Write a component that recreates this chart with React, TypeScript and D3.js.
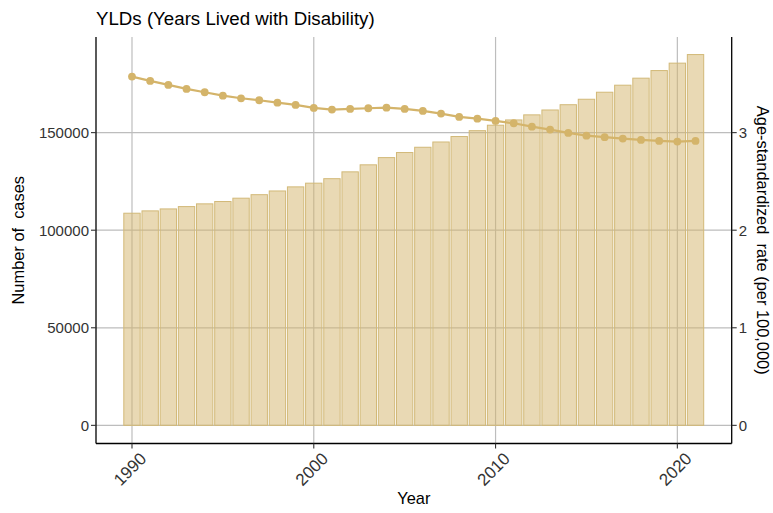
import React from "react";
import * as d3 from "d3";

const years = [1990, 1991, 1992, 1993, 1994, 1995, 1996, 1997, 1998, 1999, 2000, 2001, 2002, 2003, 2004, 2005, 2006, 2007, 2008, 2009, 2010, 2011, 2012, 2013, 2014, 2015, 2016, 2017, 2018, 2019, 2020, 2021];
const cases = [108700, 109900, 110900, 112100, 113500, 114700, 116400, 118200, 120100, 122200, 124100, 126400, 129900, 133500, 137200, 139800, 142500, 145200, 148000, 151000, 153800, 156500, 159100, 161600, 164300, 167100, 170700, 174300, 177900, 181800, 185600, 190000];
const rates = [3.574, 3.53, 3.489, 3.448, 3.414, 3.379, 3.352, 3.332, 3.307, 3.284, 3.253, 3.236, 3.243, 3.25, 3.256, 3.243, 3.222, 3.195, 3.161, 3.143, 3.12, 3.096, 3.061, 3.031, 2.997, 2.969, 2.953, 2.939, 2.925, 2.915, 2.908, 2.915];
const leftTicks = [0, 50000, 100000, 150000];
const rightTicks = [0, 1, 2, 3];
const xTicks = [1990, 2000, 2010, 2020];
const rateFactor = 50000;

const W = 773;
const H = 513;
const M = { left: 96, right: 41.3, top: 37, bottom: 69.5 };
const FONT = "'Liberation Sans', Arial, sans-serif";

export default function App() {
  const x = d3.scaleLinear().domain([1988.02, 2022.99]).range([M.left, W - M.right]);
  const yL = d3.scaleLinear().domain([-9300, 199000]).range([H - M.bottom, M.top]);
  const yR = d3.scaleLinear().domain([-9300 / rateFactor, 199000 / rateFactor]).range([H - M.bottom, M.top]);
  const x0 = M.left;
  const x1 = W - M.right;
  const y0 = H - M.bottom;
  const y1 = M.top;
  const line = d3
    .line<number>()
    .x((_, i) => x(years[i]))
    .y((d) => yR(d));
  const barColor = "#D4B46A";
  return (
    <svg width={W} height={H} style={{ position: "absolute", left: 0, top: 0, display: "block" }} fontFamily={FONT}>
      <rect x={0} y={0} width={W} height={H} fill="#fff" />
      {leftTicks.map((t) => (
        <line key={"gy" + t} x1={x0} x2={x1} y1={yL(t)} y2={yL(t)} stroke="#BDBDBD" strokeWidth={1.2} />
      ))}
      {xTicks.map((t) => (
        <line key={"gx" + t} x1={x(t)} x2={x(t)} y1={y0} y2={y1} stroke="#BDBDBD" strokeWidth={1.2} />
      ))}
      {years.map((yr, i) => (
        <rect
          key={"b" + yr}
          x={x(yr - 0.45)}
          width={x(yr + 0.45) - x(yr - 0.45)}
          y={yL(cases[i])}
          height={yL(0) - yL(cases[i])}
          fill={barColor}
          fillOpacity={0.5}
          stroke="#D2B978"
          strokeWidth={1}
        />
      ))}
      <path d={line(rates) || ""} fill="none" stroke={barColor} strokeWidth={2.2} />
      {rates.map((r, i) => (
        <circle key={"p" + i} cx={x(years[i])} cy={yR(r)} r={3.9} fill={barColor} />
      ))}
      <line x1={x0} x2={x0} y1={y1} y2={y0} stroke="#000" strokeWidth={1.3} />
      <line x1={x1} x2={x1} y1={y1} y2={y0} stroke="#000" strokeWidth={1.3} />
      <line x1={x0} x2={x1} y1={y0} y2={y0} stroke="#000" strokeWidth={1.3} />
      {leftTicks.map((t) => (
        <g key={"lt" + t}>
          <line x1={x0 - 5} x2={x0} y1={yL(t)} y2={yL(t)} stroke="#333" strokeWidth={1.1} />
          <text x={x0 - 7} y={yL(t)} dy="0.36em" textAnchor="end" fontSize={15} fill="#333">
            {t}
          </text>
        </g>
      ))}
      {rightTicks.map((t) => (
        <g key={"rt" + t}>
          <line x1={x1} x2={x1 + 5} y1={yR(t)} y2={yR(t)} stroke="#333" strokeWidth={1.1} />
          <text x={x1 + 7} y={yR(t)} dy="0.36em" textAnchor="start" fontSize={15} fill="#333">
            {t}
          </text>
        </g>
      ))}
      {xTicks.map((t) => (
        <g key={"xt" + t}>
          <line x1={x(t)} x2={x(t)} y1={y0} y2={y0 + 5} stroke="#333" strokeWidth={1.1} />
          <text
            transform={`translate(${x(t) + 7},${y0 + 8}) rotate(-45)`}
            textAnchor="end"
            dy="0.7em"
            fontSize={17}
            fill="#333"
          >
            {t}
          </text>
        </g>
      ))}
      <text x={x0} y={25} fontSize={18.7} fill="#000">
        YLDs (Years Lived with Disability)
      </text>
      <text x={(x0 + x1) / 2} y={504} textAnchor="middle" fontSize={16.4} fill="#000">
        Year
      </text>
      <text
        transform={`translate(24,${(y0 + y1) / 2}) rotate(-90)`}
        textAnchor="middle"
        fontSize={16.4}
        fill="#000"
        style={{ whiteSpace: "pre" }}
      >
        {"Number of  cases"}
      </text>
      <text
        transform={`translate(757,${(y0 + y1) / 2}) rotate(90)`}
        textAnchor="middle"
        fontSize={16.4}
        fill="#000"
        style={{ whiteSpace: "pre" }}
      >
        {"Age-standardized  rate (per 100,000)"}
      </text>
    </svg>
  );
}
